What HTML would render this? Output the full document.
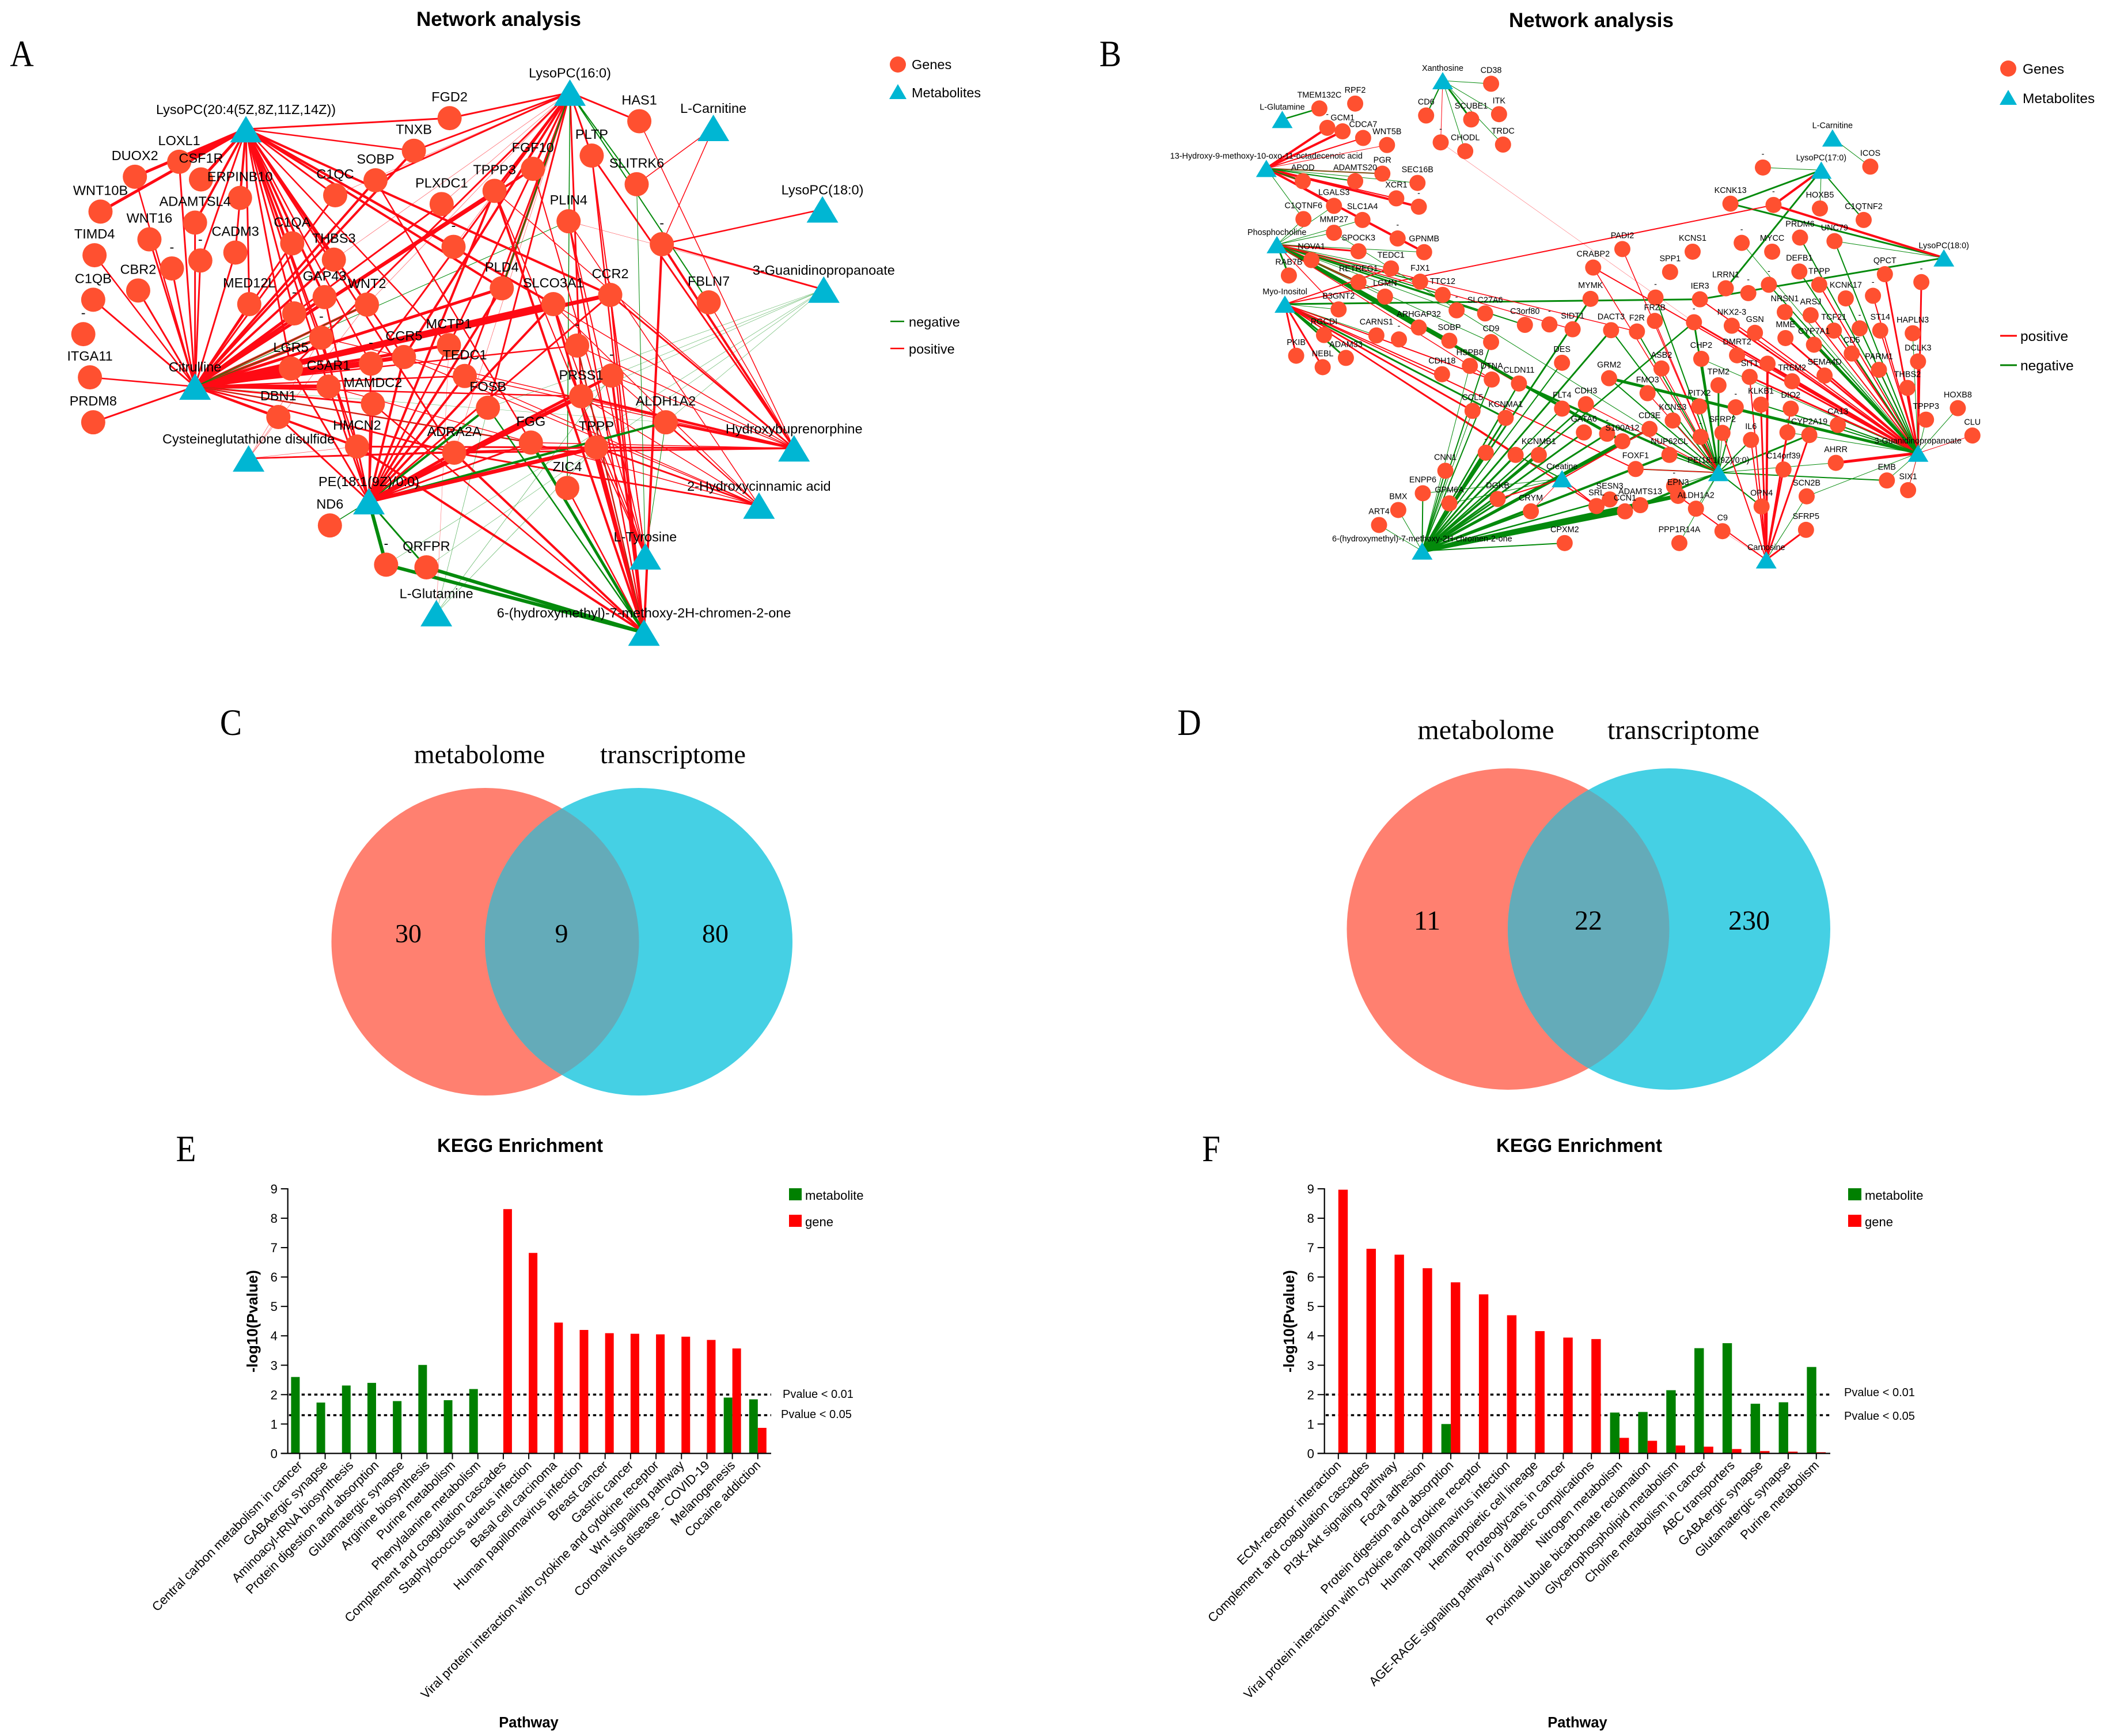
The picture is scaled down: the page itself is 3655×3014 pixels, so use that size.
<!DOCTYPE html>
<html lang="en">
<head>
<meta charset="utf-8">
<title>Network analysis, Venn diagrams and KEGG enrichment</title>
<style>
html,body{margin:0;padding:0;background:#fff;}
svg{display:block;}
text{font-family:"Liberation Sans",sans-serif;fill:#000;}
.serif{font-family:"Liberation Serif",serif;}
.b{font-weight:bold;}
</style>
</head>
<body>
<svg id="figure" xmlns="http://www.w3.org/2000/svg" width="3655" height="3014" viewBox="0 0 3655 3014">
<rect width="3655" height="3014" fill="#fff"/>
<defs>
<clipPath id="clipC"><ellipse cx="842.5" cy="1635" rx="267" ry="267"/></clipPath>
<clipPath id="clipD"><ellipse cx="2618.5" cy="1613" rx="280" ry="279"/></clipPath>
</defs>

<g id="netA"></g>
<g id="netB"></g>

<text class="b" x="866" y="45" font-size="35" text-anchor="middle">Network analysis</text>
<text class="b" x="2763" y="47" font-size="35" text-anchor="middle">Network analysis</text>

<text class="serif" transform="translate(38 115) scale(.88 1)" font-size="65" text-anchor="middle">A</text>
<text class="serif" transform="translate(1928 115) scale(.88 1)" font-size="65" text-anchor="middle">B</text>
<text class="serif" transform="translate(401 1276) scale(.88 1)" font-size="65" text-anchor="middle">C</text>
<text class="serif" transform="translate(2065 1276) scale(.88 1)" font-size="65" text-anchor="middle">D</text>
<text class="serif" transform="translate(323 2016) scale(.88 1)" font-size="65" text-anchor="middle">E</text>
<text class="serif" transform="translate(2103 2016) scale(.88 1)" font-size="65" text-anchor="middle">F</text>

<!-- legends A -->
<g>
<circle cx="1559" cy="112" r="14" fill="#ff5030"/>
<text x="1583" y="120" font-size="23.5">Genes</text>
<polygon points="1559,146 1574,172 1544,172" fill="#00b6d3"/>
<text x="1583" y="169" font-size="23.5">Metabolites</text>
<line x1="1546" x2="1570" y1="558" y2="558" stroke="#008000" stroke-width="2.5"/>
<text x="1578" y="567" font-size="23.5">negative</text>
<line x1="1546" x2="1570" y1="605" y2="605" stroke="#ff0000" stroke-width="2.5"/>
<text x="1578" y="614" font-size="23.5">positive</text>
</g>
<!-- legends B -->
<g>
<circle cx="3487" cy="119" r="14" fill="#ff5030"/>
<text x="3512" y="128" font-size="24.5">Genes</text>
<polygon points="3487,156 3502,182 3472,182" fill="#00b6d3"/>
<text x="3512" y="179" font-size="24.5">Metabolites</text>
<line x1="3473" x2="3502" y1="583" y2="583" stroke="#ff0000" stroke-width="3"/>
<text x="3508" y="592" font-size="24.5">positive</text>
<line x1="3473" x2="3502" y1="634" y2="634" stroke="#008000" stroke-width="3"/>
<text x="3508" y="643" font-size="24.5">negative</text>
</g>

<!-- Venn C -->
<g>
<ellipse cx="842.5" cy="1635" rx="267" ry="267" fill="#ff8070"/>
<ellipse cx="1109" cy="1635" rx="267" ry="267" fill="#45d0e4"/>
<ellipse cx="1109" cy="1635" rx="267" ry="267" fill="#64abb9" clip-path="url(#clipC)"/>
<text class="serif" x="832.5" y="1325" font-size="46" text-anchor="middle">metabolome</text>
<text class="serif" x="1168.5" y="1325" font-size="46" text-anchor="middle">transcriptome</text>
<text class="serif" x="709" y="1636" font-size="46" text-anchor="middle">30</text>
<text class="serif" x="975" y="1636" font-size="46" text-anchor="middle">9</text>
<text class="serif" x="1242" y="1636" font-size="46" text-anchor="middle">80</text>
</g>
<!-- Venn D -->
<g>
<ellipse cx="2618.5" cy="1613" rx="280" ry="279" fill="#ff8070"/>
<ellipse cx="2898" cy="1613" rx="280" ry="279" fill="#45d0e4"/>
<ellipse cx="2898" cy="1613" rx="280" ry="279" fill="#64abb9" clip-path="url(#clipD)"/>
<text class="serif" x="2580" y="1283" font-size="48" text-anchor="middle">metabolome</text>
<text class="serif" x="2923" y="1283" font-size="48" text-anchor="middle">transcriptome</text>
<text class="serif" x="2478" y="1614" font-size="48" text-anchor="middle">11</text>
<text class="serif" x="2758" y="1614" font-size="48" text-anchor="middle">22</text>
<text class="serif" x="3037" y="1614" font-size="48" text-anchor="middle">230</text>
</g>

<g id="chartE"></g>
<g id="chartF"></g>
</svg>

<script>
/* ---------- KEGG chart data ---------- */
const yTickLabels = [0,1,2,3,4,5,6,7,8,9];
const thresholdValues = [2,1.3];
const thresholdLabels = ['Pvalue < 0.01','Pvalue < 0.05'];

const keggECategories = ['Central carbon metabolism in cancer','GABAergic synapse','Aminoacyl-tRNA biosynthesis','Protein digestion and absorption','Glutamatergic synapse','Arginine biosynthesis','Purine metabolism','Phenylalanine metabolism','Complement and coagulation cascades','Staphylococcus aureus infection','Basal cell carcinoma','Human papillomavirus infection','Breast cancer','Gastric cancer','Viral protein interaction with cytokine and cytokine receptor','Wnt signaling pathway','Coronavirus disease - COVID-19','Melanogenesis','Cocaine addiction'];
const keggEMetabolite = [2.6,1.73,2.31,2.4,1.78,3.01,1.81,2.19,0,0,0,0,0,0,0,0,0,1.9,1.84];
const keggEGene = [0,0,0,0,0,0,0,0,8.31,6.82,4.45,4.2,4.09,4.07,4.05,3.97,3.86,3.57,0.87];

const keggFCategories = ['ECM-receptor interaction','Complement and coagulation cascades','PI3K-Akt signaling pathway','Focal adhesion','Protein digestion and absorption','Viral protein interaction with cytokine and cytokine receptor','Human papillomavirus infection','Hematopoietic cell lineage','Proteoglycans in cancer','AGE-RAGE signaling pathway in diabetic complications','Nitrogen metabolism','Proximal tubule bicarbonate reclamation','Glycerophospholipid metabolism','Choline metabolism in cancer','ABC transporters','GABAergic synapse','Glutamatergic synapse','Purine metabolism'];
const keggFMetabolite = [0,0,0,0,1.0,0,0,0,0,0,1.39,1.41,2.15,3.58,3.75,1.69,1.74,2.94];
const keggFGene = [8.97,6.96,6.76,6.3,5.82,5.41,4.7,4.16,3.94,3.89,0.53,0.43,0.27,0.23,0.15,0.08,0.06,0.04];

/* ---------- Network A ---------- */
const genesA = [['FGD2',680,268],['TNXB',626,342],['HAS1',967,275],['PLTP',895,353],['FGF10',806,383],['SLITRK6',963,418],['TPPP3',748,433],['SOBP',568,409],['LOXL1',271,367],['DUOX2',204,401],['CSF1R',304,407],['ERPINB10',363,449],['C1QC',507,443],['PLXDC1',668,463],['WNT10B',152,480],['ADAMTSL4',295,505],['WNT16',226,543],['PLIN4',860,502],['C1QA',442,552],['CADM3',356,573],['TIMD4',143,579],['_a',303,591],['_b',260,609],['THBS3',505,589],['_c',686,560],['_d',1001,554],['CBR2',209,659],['C1QB',141,680],['MED12L',377,690],['GAP43',491,674],['WNT2',555,691],['PLD4',759,654],['SLCO3A1',837,690],['CCR2',923,669],['FBLN7',1072,686],['_e',445,711],['_f',126,758],['_g',486,766],['MCTP1',679,783],['CCR5',611,810],['_h',873,784],['LGR5',440,836],['_i',561,825],['C5AR1',497,877],['TEDC1',703,853],['_j',925,852],['ITGA11',136,856],['MAMDC2',564,916],['FOSB',738,925],['PRSS1',879,899],['DBN1',421,946],['PRDM8',141,958],['ALDH1A2',1007,958],['HMCN2',540,1013],['ADRA2A',687,1027],['FGG',803,1004],['TPPP',902,1015],['ZIC4',858,1107],['ND6',499,1192],['_k',584,1281],['QRFPR',645,1287]];
const metabolitesA = [['LysoPC(16:0)',862,210,'m16'],['LysoPC(20:4(5Z,8Z,11Z,14Z))',372,293,'m20'],['L-Carnitine',1079,290,'car'],['LysoPC(18:0)',1244,475,'m18'],['3-Guanidinopropanoate',1246,657,'gua'],['Citrulline',295,877,'cit'],['Cysteineglutathione disulfide',376,1040,'cys'],['Hydroxybuprenorphine',1201,1017,'hyd'],['PE(18:1(9Z)/0:0)',558,1137,'pe'],['2-Hydroxycinnamic acid',1148,1147,'hci'],['L-Tyrosine',976,1262,'tyr'],['L-Glutamine',660,1391,'gln'],['6-(hydroxymethyl)-7-methoxy-2H-chromen-2-one',974,1435,'hm']];
const edgesA = [
['cit','+',10,'LGR5 SLCO3A1'],['cit','+',7,'C5AR1 _i CCR5 CCR2'],['cit','+',5,'_g PLD4 _e GAP43 MCTP1'],
['cit','+',4,'WNT2 THBS3 TPPP3 FGF10 TNXB SOBP DBN1 HMCN2'],
['cit','+',3,'PRDM8 C1QB CBR2 _b _a CADM3 MED12L C1QA C1QC PLXDC1 MAMDC2 ADRA2A ADAMTSL4 LOXL1 WNT16'],
['cit','+',2.5,'ITGA11 TIMD4 TEDC1 _h FGG DUOX2 PRSS1'],
['cit','-',1,'_g WNT2 PLIN4'],['cit','-',.6,'ALDH1A2 FGG'],
['m20','+',7,'LOXL1'],['m20','+',5,'CSF1R DUOX2 WNT10B'],
['m20','+',4,'ERPINB10 ADAMTSL4 C1QA THBS3 GAP43 CCR2 SLCO3A1 _c PLD4'],
['m20','+',3,'FGD2 C1QC WNT2 _e _g MED12L CADM3 _a LGR5 C5AR1 ADRA2A CCR5'],
['m20','+',2.5,'TNXB _i MCTP1 HMCN2'],
['m16','+',3,'FGD2 TNXB HAS1 PLTP TPPP3 FGF10 PRSS1 TEDC1 FOSB MCTP1 SOBP LGR5 _i'],
['m16','+',4,'TPPP3 PLD4 CCR5'],['m16','+',.8,'PLXDC1 C1QC _c THBS3 WNT2 ADRA2A'],
['m16','-',2,'SLITRK6 FBLN7 PLD4'],['m16','-',1.4,'ZIC4'],['m16','-',.7,'PLIN4'],
['car','+',1.5,'SLITRK6 _d'],['m18','+',2.5,'_d'],['gua','+',3,'_d'],['gua','+',.8,'PLIN4'],
['gua','-',.7,'FOSB PRSS1 ALDH1A2 _k QRFPR _j'],
['hyd','+',4,'_d ALDH1A2 PRSS1'],['hyd','+',3,'TPPP CCR2 PLTP HMCN2 ADRA2A'],['hyd','+',1.5,'FBLN7 FGG _j _h TEDC1 TPPP3 SLCO3A1 HAS1 _g'],
['hci','+',3,'ADRA2A TPPP'],['hci','+',1.5,'ALDH1A2 PRSS1 CCR5 C5AR1 _j PLIN4 SLCO3A1 TEDC1'],
['tyr','+',2,'CCR2 PLTP PLIN4 TPPP SLCO3A1 TPPP3 FGF10'],['tyr','-',1,'ALDH1A2 SLITRK6'],
['hm','+',4,'HMCN2 ADRA2A TPPP _d _j SLCO3A1 TPPP3'],['hm','+',2.5,'ZIC4 PLTP PLIN4 PRSS1 _h CCR2 SOBP MAMDC2'],
['hm','-',6,'_k QRFPR'],['hm','-',5,'FGG'],['hm','-',2.5,'FOSB'],['hm','-',.8,'_h'],
['pe','-',1.5,'ND6'],['pe','-',6,'_k'],['pe','-',3,'QRFPR'],['pe','-',4,'FOSB ALDH1A2'],
['pe','+',7,'PRSS1 TPPP'],['pe','+',5,'ADRA2A _j'],['pe','+',4,'TEDC1 CCR5 PLD4 TPPP3 SLCO3A1'],['pe','+',3,'_i C5AR1 MAMDC2 FGG MCTP1 HMCN2 CCR2 GAP43 LGR5 DBN1 _g'],
['cys','+',2.5,'ADRA2A TPPP'],['cys','+',.8,'DBN1 _g WNT2 HMCN2'],
['gln','-',.8,'TPPP _j FOSB'],['gln','+',.6,'MCTP1']
];

/* ---------- Network B ---------- */
const genesB = [['RPF2',437,235],['TMEM132C',383,246],['_a',395,290],['GCM1',418,298],['CDCA7',449,313],['WNT5B',485,329],['PGR',478,394],['SEC16B',531,415],['ADAMTS20',437,411],['APOD',358,411],['XCR1',499,450],['_b',533,469],['LGALS3',405,467],['C1QTNF6',359,497],['SLC1A4',448,499],['MMP27',405,528],['_c',501,541],['GPNMB',541,572],['SPOCK3',442,570],['NOVA1',371,590],['TEDC1',491,609],['RAB7B',337,625],['FJX1',535,639],['RETREG1',442,640],['LGMN',482,673],['TTC12',569,669],['_d',590,704],['SLC27A6',633,711],['B3GNT2',412,702],['ARHGAP32',533,743],['RGCDI',390,760],['CARNS1',469,761],['_e',503,770],['SOBP',579,773],['C3orf80',693,737],['SIDT1',765,747],['_f',730,736],['CD9',642,776],['PKIB',348,807],['NEBL',388,833],['ADAM33',423,812],['CDH18',568,849],['HSPB8',610,830],['DTNA',643,861],['CLDN11',684,870],['DES',749,823],['MYMK',792,678],['DACT3',823,749],['F2R',862,752],['FRZB',889,728],['_g',890,675],['CRABP2',796,607],['PADI2',840,565],['KCNS1',946,571],['SPP1',912,617],['_h',1020,551],['MYCC',1066,571],['LRRN1',996,654],['IER3',957,679],['_i',1030,665],['_j',1061,646],['KCNK13',1003,462],['_k',1068,465],['HOXB5',1138,473],['C1QTNF2',1204,499],['PRDM6',1108,539],['UNC79',1160,547],['DEFB1',1107,616],['TPPP',1137,646],['QPCT',1236,622],['_l',1291,640],['KCNK17',1177,677],['_m',1218,671],['NRSN1',1085,708],['ARSJ',1124,715],['TCF21',1159,750],['_n',1198,745],['ST14',1229,750],['HAPLN3',1278,756],['NKX2-3',1005,739],['_o',948,731],['GSN',1040,755],['MME',1086,767],['CYP7A1',1129,782],['CD5',1186,802],['DCLK3',1286,820],['PARM1',1227,839],['THBS2',1270,880],['HOXB8',1346,926],['TPPP3',1298,952],['CLU',1368,988],['DMRT2',1013,806],['_p',1059,825],['CHP2',959,814],['ASB2',899,836],['GRM2',820,858],['FMO3',878,892],['TPM2',985,874],['SIT1',1032,855],['TREM2',1096,865],['SEMA4D',1145,852],['PITX2',956,922],['_q',1011,924],['KLKB1',1049,918],['DIO2',1094,927],['CDH3',785,917],['FLT4',749,927],['CCL5',614,932],['KCNMA1',664,948],['CD3E',881,973],['KCNS3',916,954],['SFRP2',991,982],['CA13',1165,964],['GATA6',782,981],['_r',817,984],['S100A12',840,1001],['_s',958,991],['IL6',1034,998],['CYP2A19',1122,987],['_t',1089,981],['C14orf39',1083,1065],['NUP62CL',911,1032],['KCNMB1',714,1032],['_u',679,1032],['_v',634,1027],['FOXF1',860,1064],['CNN1',573,1068],['AHRR',1162,1050],['EMB',1239,1090],['SIX1',1271,1112],['SCN2B',1118,1126],['EPN3',924,1125],['_w',918,1103],['ENPP6',539,1119],['GPM6A',579,1142],['DGKB',652,1132],['SESN3',821,1133],['SRL',801,1148],['CCN1',844,1160],['ADAMTS13',867,1146],['CRYM',702,1160],['ALDH1A2',951,1154],['OPN4',1050,1149],['BMX',502,1157],['ART4',473,1191],['CPXM2',753,1232],['PPP1R14A',926,1232],['C9',991,1205],['SFRP5',1117,1202],['CD38',642,190],['CD6',544,262],['SCUBE1',612,271],['ITK',654,259],['_x',566,323],['CHODL',603,343],['TRDC',660,328],['ICOS',1214,378],['_y',1052,380]];
const metabolitesB = [['Xanthosine',569,183,'xan'],['L-Glutamine',327,271,'gln'],['L-Carnitine',1157,313,'car'],['LysoPC(17:0)',1140,386,'l17'],['13-Hydroxy-9-methoxy-10-oxo-11-octadecenoic acid',303,382,'hyd'],['Phosphocholine',319,555,'pho'],['LysoPC(18:0)',1325,585,'l18'],['Myo-Inositol',331,690,'myo'],['3-Guanidinopropanoate',1286,1028,'gua'],['PE(18:1(9Z)/0:0)',985,1072,'pe'],['Creatine',749,1086,'cre'],['6-(hydroxymethyl)-7-methoxy-2H-chromen-2-one',538,1250,'hm'],['Carnosine',1057,1270,'cno']];
const edgesB = [
['gln','-',2.5,'TMEM132C'],
['hyd','+',4,'_a GCM1 APOD _b GPNMB'],['hyd','+',2,'CDCA7 PGR XCR1 LGALS3 SLC1A4'],['hyd','+',1,'WNT5B'],['hyd','-',2,'ADAMTS20 APOD'],['hyd','-',1,'SEC16B PGR C1QTNF6'],
['xan','-',1,'CD38 ITK TRDC CHODL'],['xan','-',2,'CD6'],['xan','-',3,'SCUBE1'],['xan','+',1,'_x'],['_x','+',.6,'_o'],
['car','-',1,'ICOS'],
['l17','-',1,'_y HOXB5'],['l17','-',3,'KCNK13 LRRN1'],['l17','-',2,'C1QTNF2'],['l17','+',4,'_k'],
['l18','-',3,'KCNK13 IER3'],['l18','+',4,'_k'],['l18','-',1,'UNC79'],
['myo','+',2,'_k'],['myo','-',3,'IER3'],
['pho','+',3,'NOVA1 SPOCK3 RETREG1 CLDN11'],['pho','-',1,'GPNMB TEDC1 LGMN _d CD9 MMP27 C1QTNF6 LGALS3 SLC1A4'],['pho','-',2,'FJX1 TTC12 SLC27A6 C3orf80'],['pho','-',3,'RAB7B'],['pho','-',5,'ARHGAP32 SOBP S100A12'],['pho','+',1.5,'B3GNT2 SIDT1 F2R DTNA'],
['myo','-',1,'B3GNT2 CARNS1 CDH18'],['myo','-',3,'RGCDI ADAM33 KCNMA1'],['myo','+',3,'PKIB NEBL CCL5'],['myo','+',2,'CDH18 _u SRL TEDC1 DTNA FOXF1'],
['hm','-',1,'BMX ART4 CCL5 HSPB8'],['hm','-',2,'ENPP6 GPM6A CNN1 FLT4 CPXM2 DES CD9 DTNA'],['hm','-',3,'_v _u KCNMB1 KCNMA1 DACT3 GATA6 _r DGKB CRYM MYMK'],['hm','-',2.5,'CDH3 SESN3 _o CLDN11'],['hm','-',4,'S100A12 NUP62CL CD3E'],['hm','-',7,'CCN1 ADAMTS13 EPN3'],
['pe','-',1,'_w AHRR PPP1R14A ALDH1A2 SFRP2 MMP27'],['pe','-',2,'FOXF1 NUP62CL CD3E KCNS3 IL6 PITX2 EMB _q OPN4 DACT3 F2R GRM2 _g'],['pe','-',3,'CHP2 _s TPM2 CYP2A19 _o'],['pe','-',4,'CLDN11 ADAMTS13'],
['pe','+',1.5,'ASB2 FMO3 PADI2 FRZB CDH3 FOXF1 CRABP2'],
['cre','-',1,'GPM6A ENPP6'],['cre','-',2,'_u'],['cre','+',2,'DGKB SRL CD3E'],['cre','+',1,'CRYM'],
['cno','+',3,'SFRP5 KLKB1 OPN4 _t C14orf39 CYP2A19'],['cno','+',4,'_p'],['cno','+',2,'IL6 SIT1 DIO2 EPN3 SFRP2'],['cno','+',.6,'C9'],['cno','-',1,'SCN2B'],
['gua','+',5,'AHRR'],['gua','-',1,'EMB SIX1 SCN2B HOXB8 TPPP3 _t'],['gua','+',1,'CLU SIX1'],
['gua','+',3,'THBS2 DCLK3 _l QPCT TREM2 SEMA4D MME NKX2-3 _o SIT1 DMRT2'],['gua','+',2,'PARM1 _m ST14 CD5 TCF21 CYP7A1 ARSJ TPPP GSN _p IER3 CRABP2'],
['gua','-',5,'NRSN1 GRM2'],['gua','-',2,'KCNK17 UNC79 PRDM6 _n CA13 KLKB1 DEFB1 _j'],['gua','-',1,'HAPLN3 _h CHP2']
];

/* ---------- Scales ---------- */
const SVGNS = 'http://www.w3.org/2000/svg';
const scaleY = v => v * 1200 / 1568;
const scaleAX = v => v * 1800 / 1568;
const scaleBX = v => 1850 + v * 1805 / 1568;

function svgEl(tag, attrs, parent){
  const el = document.createElementNS(SVGNS, tag);
  for (const k in attrs) el.setAttribute(k, attrs[k]);
  parent.appendChild(el);
  return el;
}

function drawNetwork(rootId, genes, mets, edges, sx, opt){
  const root = document.getElementById(rootId);
  const pos = {};
  genes.forEach(g => { pos[g[0]] = [sx(g[1]), scaleY(g[2])]; });
  mets.forEach(m => { pos[m[3]] = [sx(m[1]), scaleY(m[2])]; });
  const edgeLayer = svgEl('g', {}, root);
  
  
  edges.forEach(e => {
    const a = pos[e[0]];
    if (!a) return;
    e[3].split(' ').forEach(t => {
      const b = pos[t];
      if (!b) return;
      const ln = svgEl('line', {x1:a[0], y1:a[1], x2:b[0], y2:b[1],
        stroke: e[1] === '+' ? '#ff0a14' : '#048a0c',
        'stroke-width': e[2],
        'stroke-opacity': e[2] < 1 ? .6 : 1}, edgeLayer);
      
      
    });
  });
  genes.forEach(g => {
    const c = svgEl('circle', {cx:pos[g[0]][0], cy:pos[g[0]][1], r:opt.r, fill:'#ff5030'}, root);
    
    
  });
  mets.forEach(m => {
    const p = pos[m[3]];
    const t = svgEl('polygon', {points:[p[0], p[1]-opt.th/2, p[0]+opt.tw/2, p[1]+opt.th/2, p[0]-opt.tw/2, p[1]+opt.th/2].join(' '), fill:'#00b6d3'}, root);
    
    
  });
  genes.forEach(g => {
    const t = svgEl('text', {x:pos[g[0]][0], y:pos[g[0]][1]-opt.dy+opt.fs*.36, 'font-size':opt.fs, 'text-anchor':'middle'}, root);
    t.textContent = g[0][0] === '_' ? '-' : g[0];
    
    
  });
  mets.forEach(m => {
    const t = svgEl('text', {x:pos[m[3]][0], y:pos[m[3]][1]-opt.mdy+opt.fs*.36, 'font-size':opt.fs, 'text-anchor':'middle'}, root);
    t.textContent = m[0];
    
    
  });
}

drawNetwork('netA', genesA, metabolitesA, edgesA, scaleAX, {r:21, tw:55, th:46, fs:23.5, dy:37.5, mdy:34.5});
drawNetwork('netB', genesB, metabolitesB, edgesB, scaleBX, {r:14, tw:36, th:30, fs:14.4, dy:24, mdy:22});

function drawKegg(rootId, cats, mets, gens, L){
  const root = document.getElementById(rootId);
  const y = v => L.y0 - v * (L.y0 - L.y9) / 9;
  const x = i => L.x0 + i * L.step;

  thresholdValues.forEach((v, i) => {
    const ln = svgEl('line', {x1:L.axisL+2, x2:L.axisR, y1:y(v), y2:y(v), stroke:'#000', 'stroke-width':3.5, 'stroke-dasharray':'5.5 5.5'}, root);
    
    
    const t = svgEl('text', {x:L.thX[i], y:L.thY[i]+7, 'font-size':20}, root);
    t.textContent = thresholdLabels[i];
    
    
  });

  cats.forEach((c, i) => {
    if (mets[i] > 0) {
      const r = svgEl('rect', {x:x(i)-L.bw, y:y(mets[i]), width:L.bw, height:y(0)-y(mets[i]), fill:'#008000'}, root);
      
      
    }
    if (gens[i] > 0) {
      const r = svgEl('rect', {x:x(i), y:y(gens[i]), width:L.bw, height:y(0)-y(gens[i]), fill:'#ff0000'}, root);
      
      
    }
  });

  const ya = svgEl('line', {x1:L.axisL, x2:L.axisL, y1:y(9)-1, y2:y(0)+1, stroke:'#000', 'stroke-width':2.2}, root);
  
  
  const xa = svgEl('line', {x1:L.axisL-12, x2:L.axisR, y1:y(0), y2:y(0), stroke:'#000', 'stroke-width':2.2}, root);
  
  

  yTickLabels.forEach(v => {
    const tk = svgEl('line', {x1:L.axisL-12, x2:L.axisL, y1:y(v), y2:y(v), stroke:'#000', 'stroke-width':2}, root);
    
    
    const t = svgEl('text', {x:L.axisL-24, y:y(v)+8, 'font-size':22, 'text-anchor':'middle'}, root);
    t.textContent = v;
    
    
  });

  cats.forEach((c, i) => {
    const tk = svgEl('line', {x1:x(i), x2:x(i), y1:y(0), y2:y(0)+10, stroke:'#000', 'stroke-width':2}, root);
    
    
    const t = svgEl('text', {transform:'translate(' + (x(i)+6) + ' ' + (y(0)+22) + ') rotate(-45)', 'font-size':22, 'text-anchor':'end'}, root);
    t.textContent = c;
    
    
  });

  const yt = svgEl('text', {transform:'translate(' + (L.yTitleX+9) + ' 2294) rotate(-90)', 'font-size':26, 'font-weight':'bold', 'text-anchor':'middle'}, root);
  yt.textContent = '-log10(Pvalue)';
  
  
  const xt = svgEl('text', {x:L.xTitleX, y:2999, 'font-size':25.5, 'font-weight':'bold', 'text-anchor':'middle'}, root);
  xt.textContent = 'Pathway';
  
  
  const tt = svgEl('text', {x:L.titleX, y:2000, 'font-size':33, 'font-weight':'bold', 'text-anchor':'middle'}, root);
  tt.textContent = 'KEGG Enrichment';
  
  

  const s1 = svgEl('rect', {x:L.legX, y:2063, width:L.legW, height:21, fill:'#008000'}, root);
  
  
  const l1 = svgEl('text', {x:L.legX+L.legW+6, y:2083, 'font-size':22}, root);
  l1.textContent = 'metabolite';
  
  
  const s2 = svgEl('rect', {x:L.legX, y:2109, width:L.legW, height:21, fill:'#ff0000'}, root);
  
  
  const l2 = svgEl('text', {x:L.legX+L.legW+6, y:2129, 'font-size':22}, root);
  l2.textContent = 'gene';
  
  
}

drawKegg('chartE', keggECategories, keggEMetabolite, keggEGene, {y0:2523.4, y9:2064, x0:520.4, step:44.19, bw:15, axisL:499.7, axisR:1339, thX:[1359,1356], thY:[2420,2455], yTitleX:438, xTitleX:918, titleX:903, legX:1370, legW:22});
drawKegg('chartF', keggFCategories, keggFMetabolite, keggFGene, {y0:2523.4, y9:2064, x0:2323.8, step:48.82, bw:16.4, axisL:2299.7, axisR:3178, thX:[3202,3202], thY:[2417,2458], yTitleX:2238, xTitleX:2739, titleX:2742, legX:3209, legW:23});
</script>
</body>
</html>
